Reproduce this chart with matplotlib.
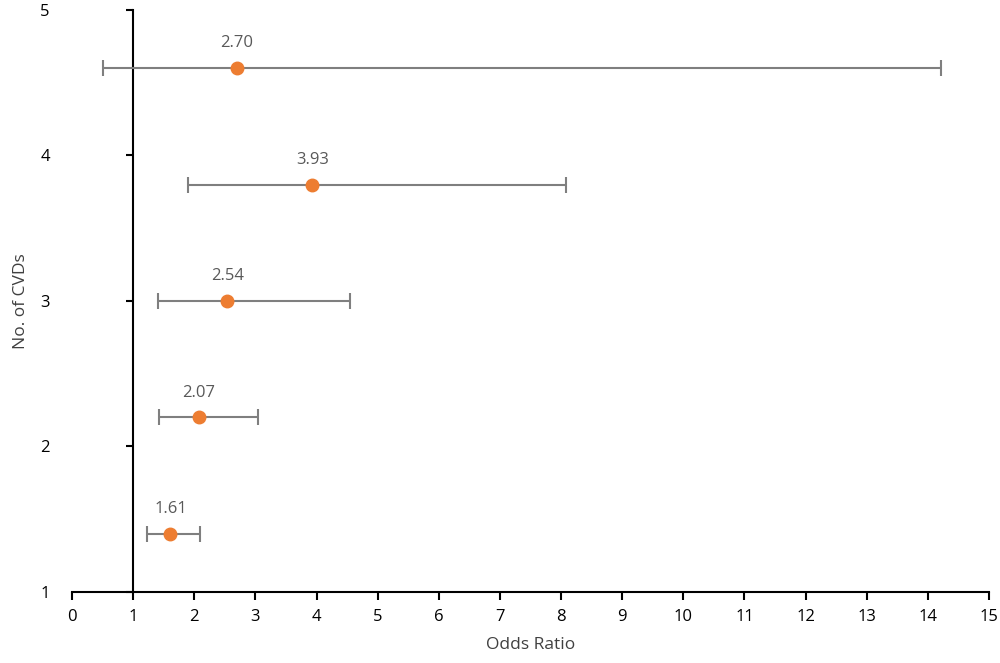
import matplotlib.pyplot as plt

# Data
odds_ratio = [1.61, 2.07, 2.54, 3.93, 2.70]
y_pos = [1.4, 2.2, 3.0, 3.8, 4.6]
ci_low = [1.23, 1.42, 1.41, 1.90, 0.51]
ci_high = [2.09, 3.04, 4.55, 8.08, 14.22]
x_ticks = list(range(0, 16))
y_ticks = [1, 2, 3, 4, 5]

plt.rcParams['font.family'] = ['Open Sans', 'DejaVu Sans']

fig = plt.figure(figsize=(10, 6.63), dpi=100)
ax = fig.add_axes([0.072, 0.1071, 0.917, 0.878])

err_lo = [o - l for o, l in zip(odds_ratio, ci_low)]
err_hi = [h - o for o, h in zip(odds_ratio, ci_high)]

ax.errorbar(odds_ratio, y_pos, xerr=[err_lo, err_hi], fmt='none',
            ecolor='#7F7F7F', elinewidth=1.5, capsize=6, capthick=1.5, zorder=2)
ax.plot(odds_ratio, y_pos, 'o', color='#ED7D31', markersize=9, zorder=3)

for o, y in zip(odds_ratio, y_pos):
    ax.annotate(f'{o:.2f}', (o, y), xytext=(0, 12), textcoords='offset points',
                ha='center', va='bottom', fontsize=12, color='#595959')

ax.set_xlim(0, 15)
ax.set_ylim(1, 5)
ax.set_xticks(x_ticks)
ax.set_yticks(y_ticks)

for s in ['top', 'right', 'left']:
    ax.spines[s].set_visible(False)
ax.spines['bottom'].set_linewidth(1.5)
ax.tick_params(axis='x', direction='out', length=6, width=1.5, labelsize=12, pad=6)
ax.tick_params(axis='y', length=0, labelsize=12, pad=16)

# vertical axis crossing at x = 1
sec = ax.secondary_yaxis(1 / 15)
sec.set_yticks(y_ticks)
sec.set_yticklabels([])
sec.spines['left'].set_linewidth(1.5)
sec.tick_params(axis='y', direction='out', length=5, width=1.5)

ax.set_xlabel('Odds Ratio', fontsize=12.5, color='#404040', labelpad=9)
ax.set_ylabel('No. of CVDs', fontsize=12.5, color='#404040', labelpad=8)

plt.savefig('out.png', dpi=100)
